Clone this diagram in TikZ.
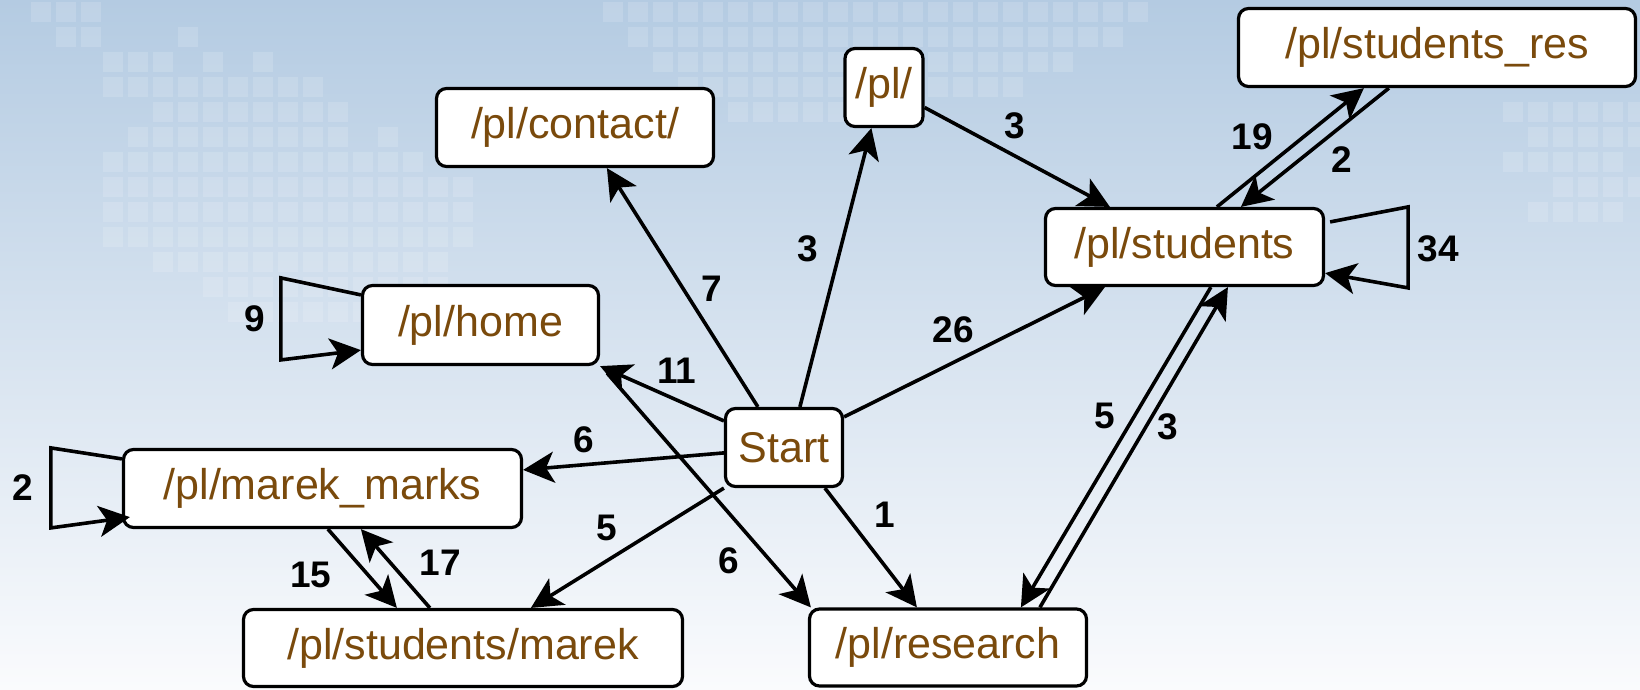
\documentclass[tikz,border=0pt]{standalone}
\usepackage{fontspec}
\setmainfont{Liberation Sans}
\usetikzlibrary{arrows.meta,calc}
\definecolor{bgtop}{RGB}{180,203,226}
\definecolor{bgmid}{RGB}{214,226,239}
\definecolor{bgbot}{RGB}{250,251,253}
\definecolor{txtbrown}{RGB}{122,74,12}
\begin{document}
\begin{tikzpicture}[x=1pt,y=-1pt,
  pagebox/.style={draw=black, line width=3.2pt, rounded corners=10pt, fill=white,
    text=txtbrown, font=\fontsize{43}{50}\selectfont, inner sep=0pt, align=center},
  link/.style={line width=3.6pt, line join=miter, -{Stealth[length=31pt,width=31pt,inset=8pt]}},
  lbl/.style={font=\bfseries\fontsize{37}{44}\selectfont, text=black, inner sep=0pt},
  sq/.style={fill=white, fill opacity=0.15, draw=none}]
\useasboundingbox (0,0) rectangle (1640,689);
\shade[top color=bgtop, middle color=bgmid, bottom color=bgbot] (0,0) rectangle (1640,689);
% faint background squares
\foreach \yy/\xa/\xb in {2/31/81, 27/56/81, 27/178/178, 52/103/153, 52/203/203, 52/253/253,
  77/103/303, 102/153/328, 127/128/328, 127/378/378, 152/103/403, 177/103/453,
  202/103/453, 227/103/453, 252/153/428, 277/203/428, 302/228/403,
  2/603/1128, 27/628/1103, 52/653/1053, 77/678/1003, 102/728/903,
  102/1503/1628, 127/1528/1628, 152/1503/1603, 177/1553/1628, 202/1528/1603}{
  \pgfmathtruncatemacro{\xn}{\xa+25}
  \ifnum\xa=\xb
    \fill[sq] (\xa,\yy) rectangle ++(20,20);
  \else
    \foreach \xx in {\xa,\xn,...,\xb}{\fill[sq] (\xx,\yy) rectangle ++(20,20);}
  \fi
}
% nodes
\node[pagebox, minimum width=277pt, minimum height=78pt] (contact) at (575,127.5) {/pl/contact/};
\node[pagebox, minimum width=78pt, minimum height=78pt] (pl) at (884,87.5) {/pl/};
\node[pagebox, minimum width=397pt, minimum height=78pt] (res) at (1437,47.5) {/pl/students\_res};
\node[pagebox, minimum width=278pt, minimum height=77pt] (students) at (1184.5,247) {/pl/students};
\node[pagebox, minimum width=236pt, minimum height=79pt] (home) at (480.5,325) {/pl/home};
\node[pagebox, minimum width=117pt, minimum height=78pt] (start) at (784,447.5) {Start};
\node[pagebox, minimum width=398pt, minimum height=78pt] (marks) at (322.5,488.5) {/pl/marek\_marks};
\node[pagebox, minimum width=439pt, minimum height=77pt] (smarek) at (463,648) {/pl/students/marek};
\node[pagebox, minimum width=277pt, minimum height=77pt] (research) at (948,647.5) {/pl/research};
% connectors
\draw[link] ([xshift=34pt]start.north west) -- ([xshift=172pt]contact.south west);
\draw[link] ([xshift=76pt]start.north west) -- ([xshift=28pt]pl.south west);
\draw[link] ([yshift=-20pt]pl.east) -- ([xshift=66pt]students.north west);
\draw[link] ([yshift=-10pt]start.north east) -- ([xshift=61pt]students.south west);
\draw[link] ([xshift=173pt]students.north west) -- ([xshift=127pt]res.south west);
\draw[link] ([xshift=152pt]res.south west) -- ([xshift=197pt]students.north west);
\draw[link] ([xshift=5pt,yshift=-15pt]students.north east) -- ++(78,-15) -- ++(0,81) -- ([yshift=14pt]students.south east);
\draw[link] ([yshift=-14pt]start.north west) -- (home.south east);
\draw[link] ([yshift=-11pt]home.north west) -- ++(-80,-17) -- ++(0,82) -- ([yshift=16pt]home.south west);
\draw[link] ([yshift=-46pt]start.north west) -- ([yshift=-22pt]marks.north east);
\draw[link] ([yshift=-11pt]marks.north west) -- ++(-71,-11) -- ++(0,80) -- ([xshift=8pt,yshift=12pt]marks.south west);
\draw[link] (start.south west) -- ([xshift=289pt]smarek.north west);
\draw[link] ([xshift=7pt,yshift=-7pt]home.south east) -- ([xshift=3pt]research.north west);
\draw[link] ([xshift=101pt]start.south west) -- ([xshift=109pt]research.north west);
\draw[link] ([xshift=232pt]research.north west) -- ([xshift=184pt]students.south west);
\draw[link] ([xshift=167pt]students.south west) -- ([xshift=213pt]research.north west);
\draw[link] ([xshift=206pt]marks.south west) -- ([xshift=155pt]smarek.north west);
\draw[link] ([xshift=188pt]smarek.north west) -- ([xshift=239pt]marks.south west);
% labels
\node[lbl] (l7) at (712,289) {7};
\node[lbl] (l3a) at (808,249) {3};
\node[lbl] (l3b) at (1015,126) {3};
\node[lbl] (l19) at (1252,137) {19};
\node[lbl] (l2a) at (1342,160) {2};
\node[lbl] (l34) at (1438,249) {34};
\node[lbl] (l26) at (953,330) {26};
\node[lbl] (l9) at (255,319) {9};
\node[lbl] (l11) at (677,371) {11};
\node[lbl] (l6a) at (584,440) {6};
\node[lbl] (l2b) at (23,488) {2};
\node[lbl] (l5a) at (607,528) {5};
\node[lbl] (l6b) at (729,561) {6};
\node[lbl] (l1) at (885,515) {1};
\node[lbl] (l5b) at (1105,416) {5};
\node[lbl] (l3c) at (1168,427) {3};
\node[lbl] (l15) at (311,575) {15};
\node[lbl] (l17) at (440,563) {17};
\end{tikzpicture}
\end{document}
